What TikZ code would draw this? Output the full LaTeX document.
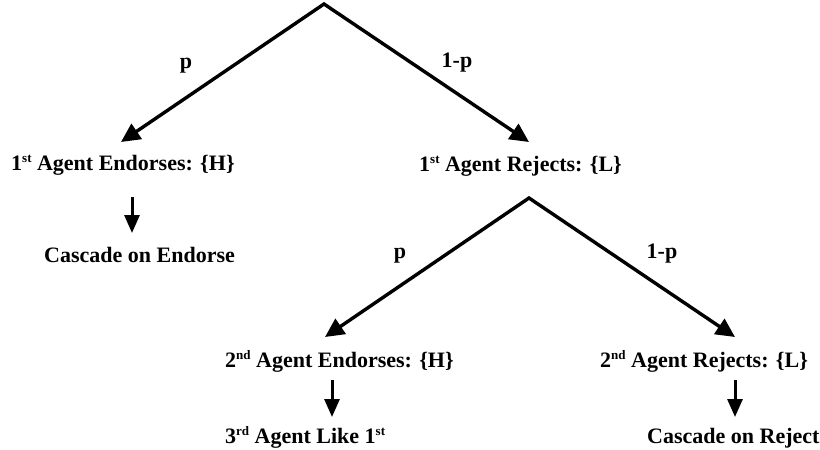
\documentclass[tikz,border=0pt]{standalone}
\usepackage{fontspec}
\setmainfont{Liberation Serif}
\usetikzlibrary{arrows.meta}
\newcommand\mysup[1]{\raisebox{0.36em}{\fontsize{13}{13}\selectfont #1}}
\begin{document}
\begin{tikzpicture}[x=1pt,y=-1pt,
  lbl/.style={font=\fontsize{22}{26}\selectfont\bfseries, inner sep=0pt, anchor=base west},
  plbl/.style={font=\fontsize{22}{26}\selectfont\bfseries, inner sep=0pt, anchor=base},
  branch/.style={line width=3.4pt, {Triangle[length=19pt,width=18pt]}-{Triangle[length=19pt,width=18pt]}},
  down/.style={line width=3pt, -{Triangle[length=18pt,width=15pt]}}]
\useasboundingbox (0,0) rectangle (820,450);
% level 1
\coordinate (root) at (324,4);
\coordinate (t1) at (121,142);
\coordinate (t2) at (529,142);
\draw[branch] (t1) -- (root) -- (t2);
\node[plbl] (p1) at (186,68) {p};
\node[plbl] (q1) at (457,67) {1-p};
\node[lbl] (e1) at (11,170) {1\mysup{st} Agent Endorses: \{H\}};
\node[lbl] (r1) at (419,171) {1\mysup{st} Agent Rejects: \{L\}};
\coordinate (d1s) at (132,197);
\coordinate (d1e) at (132,233);
\draw[down] (d1s) -- (d1e);
\node[lbl] (c1) at (44,262) {Cascade on Endorse};
% level 2
\coordinate (root2) at (529,198);
\coordinate (t3) at (325,337);
\coordinate (t4) at (735,337);
\draw[branch] (t3) -- (root2) -- (t4);
\node[plbl] (p2) at (400,258) {p};
\node[plbl] (q2) at (662,258) {1-p};
\node[lbl] (e2) at (225,367) {2\mysup{nd} Agent Endorses: \{H\}};
\node[lbl] (r2) at (600,367) {2\mysup{nd} Agent Rejects: \{L\}};
\coordinate (d2s) at (332,380);
\coordinate (d2e) at (332,417);
\draw[down] (d2s) -- (d2e);
\coordinate (d3s) at (735,380);
\coordinate (d3e) at (735,417);
\draw[down] (d3s) -- (d3e);
\node[lbl] (a3) at (225,443) {3\mysup{rd} Agent Like 1\mysup{st}};
\node[lbl] (c2) at (647,443) {Cascade on Reject};
\end{tikzpicture}
\end{document}
